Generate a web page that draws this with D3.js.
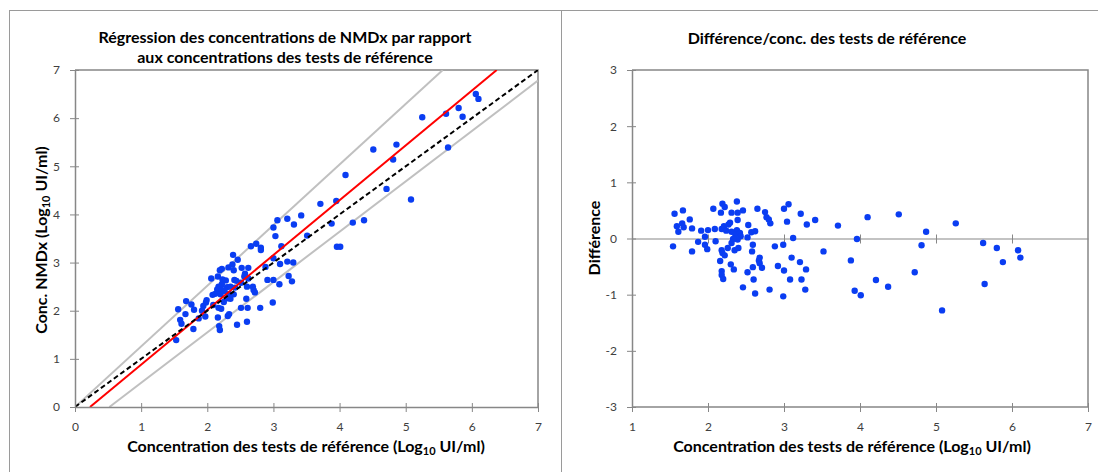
<!DOCTYPE html>
<html>
<head>
<meta charset='UTF-8'>
<title>NMDx</title>
<script src='https://d3js.org/d3.v7.min.js'></script>
<style>
  body { margin: 0; background: #fff; }
  text { font-family: Lato, 'Open Sans', sans-serif; }
</style>
</head>
<body>
<div id='chart'></div>
<script>
// left panel: reference concentration vs NMDx concentration (Log10 UI/ml)
var refConc = [3.42, 3.21, 3.06, 3.31, 3.00, 3.03, 2.66, 2.74, 2.81, 2.81,
  3.12, 2.39, 2.46, 3.00, 3.21, 3.30, 3.10, 2.88, 2.38, 2.52,
  2.62, 2.32, 2.22, 2.19, 2.40, 2.57, 2.56, 2.62, 2.16, 2.06,
  2.23, 2.28, 2.41, 2.44, 2.51, 2.91, 3.00, 3.23, 3.28, 3.09,
  2.22, 2.17, 2.30, 2.35, 2.42, 2.60, 2.69, 2.15, 2.22, 2.26,
  2.72, 2.70, 2.08, 2.12, 2.20, 2.33, 2.40, 2.31, 2.59, 2.35,
  1.99, 1.94, 1.98, 2.09, 2.17, 2.21, 2.25, 1.68, 1.76, 1.80,
  1.56, 1.67, 1.92, 1.97, 1.87, 1.59, 1.61, 1.79, 2.16, 2.31,
  2.33, 2.51, 2.61, 2.80, 2.99, 2.45, 2.60, 2.18, 2.19, 1.53,
  6.06, 6.10, 5.80, 5.86, 5.61, 5.25, 5.64, 4.86, 4.51, 4.81,
  4.09, 4.71, 3.71, 3.95, 5.08, 3.88, 4.20, 4.37, 3.51, 3.96, 4.01];
var nmdxConc = [3.98, 3.91, 3.88, 3.79, 3.73, 3.55, 3.34, 3.39, 3.31, 3.26,
  3.34, 3.16, 3.06, 3.09, 3.02, 3.00, 2.97, 2.91, 2.96, 2.89,
  2.89, 2.90, 2.87, 2.84, 2.84, 2.77, 2.71, 2.67, 2.71, 2.67,
  2.65, 2.63, 2.64, 2.62, 2.58, 2.64, 2.64, 2.72, 2.61, 2.55,
  2.55, 2.50, 2.49, 2.50, 2.48, 2.50, 2.50, 2.44, 2.43, 2.41,
  2.38, 2.43, 2.33, 2.35, 2.34, 2.35, 2.34, 2.26, 2.25, 2.25,
  2.22, 2.10, 2.17, 2.12, 2.06, 2.04, 2.18, 2.20, 2.13, 2.02,
  2.03, 1.93, 2.00, 1.88, 1.84, 1.81, 1.73, 1.62, 1.86, 1.89,
  1.93, 2.06, 2.06, 2.06, 2.17, 1.71, 1.77, 1.68, 1.60, 1.39,
  6.50, 6.40, 6.21, 6.03, 6.09, 6.02, 5.39, 5.45, 5.35, 5.14,
  4.82, 4.53, 4.22, 4.28, 4.31, 3.81, 3.83, 3.88, 3.56, 3.33, 3.33];

// lines on the left panel, in data units
var identityLine = [[0, 0], [7, 7]];
var fitLine = [[0.227, 0], [6.376, 7]];
var upperLine = [[0, 0], [5.56, 7]];
var lowerLine = [[0.52, 0], [7, 6.78]];

// right panel: difference vs reference concentration
var diffRef = [1.56, 1.67, 1.59, 1.66, 1.68, 1.61, 1.76, 1.79, 1.54, 1.79,
  1.87, 1.91, 1.96, 2.00, 1.96, 1.99, 2.07, 2.09, 2.10, 2.17,
  2.19, 2.22, 2.18, 2.21, 2.24, 2.27, 2.29, 2.31, 2.38, 2.39,
  2.46, 2.39, 2.38, 2.31, 2.36, 2.42, 2.43, 2.39, 2.33, 2.31,
  2.26, 2.35, 2.40, 2.18, 2.19, 2.22, 2.16, 2.30, 2.34, 2.18,
  2.18, 2.20, 2.46, 2.52, 2.59, 2.60, 2.62, 2.53, 2.52, 2.57,
  2.62, 2.59, 2.58, 2.65, 2.75, 2.77, 2.80, 2.82, 2.68, 2.67,
  2.68, 2.71, 2.81, 2.88, 2.92, 3.00, 2.99, 2.99, 3.00, 3.06,
  3.04, 3.12, 3.10, 3.08, 3.21, 3.22, 3.30, 3.29, 3.23, 3.28,
  3.41, 3.52, 3.71, 4.10, 4.51, 3.96, 3.88, 3.93, 4.01, 4.21,
  4.37, 4.72, 4.81, 4.87, 5.08, 5.26, 5.62, 5.64, 5.80, 5.88, 6.08, 6.11];
var diffValue = [0.44, 0.50, 0.22, 0.27, 0.20, 0.12, 0.34, 0.18, -0.14, -0.23,
  -0.06, 0.14, 0.03, 0.15, -0.11, -0.19, 0.53, 0.17, -0.05, 0.46,
  0.62, 0.56, 0.17, 0.22, 0.14, 0.25, 0.28, 0.46, 0.66, 0.46,
  0.50, 0.33, 0.15, 0.12, 0.07, 0.10, 0.04, -0.02, -0.01, -0.08,
  -0.17, -0.21, -0.17, -0.21, -0.26, -0.30, -0.40, -0.46, -0.55, -0.58,
  -0.65, -0.72, -0.87, -0.60, -0.51, -0.73, -0.98, 0.24, 0.02, 0.11,
  0.13, -0.11, -0.23, 0.53, 0.47, 0.38, 0.34, 0.27, -0.34, -0.39,
  -0.44, -0.52, -0.91, -0.14, -0.49, -0.57, -0.11, -1.03, 0.53, 0.61,
  0.30, 0.01, -0.34, -0.73, -0.42, 0.44, 0.25, -0.55, -0.73, -0.91,
  0.33, -0.23, 0.23, 0.38, 0.43, -0.01, -0.39, -0.93, -1.01, -0.74,
  -0.86, -0.60, -0.12, 0.12, -1.28, 0.27, -0.08, -0.81, -0.17, -0.42, -0.21, -0.34];

var concTicks = [0, 1, 2, 3, 4, 5, 6, 7];
var diffXTicks = [1, 2, 3, 4, 5, 6, 7];
var diffYTicks = [-3, -2, -1, 0, 1, 2, 3];

var W = 1098, H = 472;
var axisGrey = '#878787';
var dotBlue = '#0a3df2';
var plain = d => String(d);   // keeps a hyphen for negatives, like the original

var svg = d3.select('#chart').append('svg')
    .attr('width', W)
    .attr('height', H)
    .style('display', 'block');

// panel frames
svg.append('rect').attr('x', 9.5).attr('y', 10.5).attr('width', 552).attr('height', 520)
   .attr('fill', 'none').attr('stroke', '#9a9a9a');
svg.append('rect').attr('x', 561.5).attr('y', 10.5).attr('width', 600).attr('height', 520)
   .attr('fill', 'none').attr('stroke', '#9a9a9a');

// cross ticks for an axis group
function crossTicks(g, vertical) {
    g.select('.domain').attr('stroke', axisGrey);
    g.selectAll('.tick line').attr('stroke', axisGrey);
    if (vertical) g.selectAll('.tick line').attr('x1', 4).attr('x2', -5);
    else g.selectAll('.tick line').attr('y1', -4).attr('y2', 5);
    g.selectAll('.tick text').attr('fill', '#404040').style('font-size', '12px')
     .style('font-family', 'Lato, sans-serif');
}

function titleText(x, y, lines, size) {
    var t = svg.append('text')
       .attr('x', x).attr('y', y)
       .attr('text-anchor', 'middle')
       .style('font-size', size + 'px')
       .style('font-weight', 'bold')
       .attr('fill', '#000');
    lines.forEach(function (l, i) {
        t.append('tspan').attr('x', x).attr('dy', i === 0 ? 0 : '1.25em').text(l);
    });
}

function logTitle(g, before) {
    g.append('tspan').text(before + ' (Log');
    g.append('tspan').text('10').style('font-size', '11px').attr('dy', 3);
    g.append('tspan').text(' UI/ml)').attr('dy', -3);
}

// ---------- left chart ----------
var x1 = d3.scaleLinear().domain([0, 7]).range([75, 538]);
var y1 = d3.scaleLinear().domain([0, 7]).range([407, 70]);

svg.append('path')
   .attr('d', 'M' + x1(0) + ',' + y1(7) + 'H' + x1(7) + 'V' + y1(0))
   .attr('fill', 'none').attr('stroke', axisGrey).attr('stroke-width', 1.5);

svg.append('clipPath').attr('id', 'clip1').append('rect')
   .attr('x', x1(0)).attr('y', y1(7)).attr('width', x1(7) - x1(0)).attr('height', y1(0) - y1(7));

var line1 = d3.line().x(d => x1(d[0])).y(d => y1(d[1]));
var greyLines = svg.append('g').attr('clip-path', 'url(#clip1)');
greyLines.append('path').attr('d', line1(upperLine)).attr('stroke', '#c0c0c0').attr('stroke-width', 2).attr('fill', 'none');
greyLines.append('path').attr('d', line1(lowerLine)).attr('stroke', '#c0c0c0').attr('stroke-width', 2).attr('fill', 'none');

svg.append('g').selectAll('circle')
   .data(refConc)
   .enter()
   .append('circle')
   .attr('cx', d => x1(d))
   .attr('cy', (d, i) => y1(nmdxConc[i]))
   .attr('r', 3.2)
   .attr('fill', dotBlue);

var overLines = svg.append('g').attr('clip-path', 'url(#clip1)');
overLines.append('path').attr('d', line1(fitLine)).attr('stroke', '#ff0000').attr('stroke-width', 2).attr('fill', 'none');
overLines.append('path').attr('d', line1(identityLine)).attr('stroke', '#000').attr('stroke-width', 2)
   .attr('stroke-dasharray', '5,3').attr('fill', 'none');

svg.append('g')
   .attr('transform', 'translate(0,' + y1(0) + ')')
   .call(d3.axisBottom(x1).tickValues(concTicks).tickFormat(plain).tickSizeOuter(0).tickPadding(9))
   .call(g => crossTicks(g, false))
   .select('.domain').attr('stroke-width', 1.5);

svg.append('g')
   .attr('transform', 'translate(' + x1(0) + ',0)')
   .call(d3.axisLeft(y1).tickValues(concTicks).tickFormat(plain).tickSizeOuter(0).tickPadding(9))
   .call(g => crossTicks(g, true))
   .select('.domain').attr('stroke-width', 1.5);

titleText(285, 43, ['Régression des concentrations de NMDx par rapport', 'aux concentrations des tests de référence'], 16);

var xt1 = svg.append('text').attr('x', 306).attr('y', 452).attr('text-anchor', 'middle')
   .style('font-size', '16px').style('font-weight', 'bold');
logTitle(xt1, 'Concentration des tests de référence');

var yt1 = svg.append('text').attr('transform', 'translate(47,240) rotate(-90)').attr('text-anchor', 'middle')
   .style('font-size', '16px').style('font-weight', 'bold');
logTitle(yt1, 'Conc. NMDx');

// ---------- right chart ----------
var x2 = d3.scaleLinear().domain([1, 7]).range([632, 1088]);
var y2 = d3.scaleLinear().domain([-3, 3]).range([407, 70]);

svg.append('path')
   .attr('d', 'M' + x2(1) + ',' + y2(3) + 'H' + x2(7) + 'V' + y2(-3) + 'H' + x2(1))
   .attr('fill', 'none').attr('stroke', axisGrey).attr('stroke-width', 1.5);

// horizontal axis crossing at zero, labels at the bottom
svg.append('g')
   .attr('transform', 'translate(0,' + y2(0) + ')')
   .call(d3.axisBottom(x2).tickValues(diffXTicks.slice(1, -1)).tickFormat('').tickSizeOuter(0))
   .call(g => crossTicks(g, false));

svg.append('g')
   .attr('transform', 'translate(0,' + y2(-3) + ')')
   .call(d3.axisBottom(x2).tickValues(diffXTicks).tickFormat(plain).tickSize(0).tickPadding(15))
   .call(g => crossTicks(g, false))
   .call(g => g.select('.domain').remove());

svg.append('g')
   .attr('transform', 'translate(' + x2(1) + ',0)')
   .call(d3.axisLeft(y2).tickValues(diffYTicks).tickFormat(plain).tickSizeOuter(0).tickPadding(9))
   .call(g => crossTicks(g, true))
   .select('.domain').attr('stroke-width', 1.5);

svg.append('g').selectAll('circle')
   .data(diffRef)
   .enter()
   .append('circle')
   .attr('cx', d => x2(d))
   .attr('cy', (d, i) => y2(diffValue[i]))
   .attr('r', 3.2)
   .attr('fill', dotBlue);

titleText(827, 44, ['Différence/conc. des tests de référence'], 16);

var xt2 = svg.append('text').attr('x', 852).attr('y', 452).attr('text-anchor', 'middle')
   .style('font-size', '16px').style('font-weight', 'bold');
logTitle(xt2, 'Concentration des tests de référence');

svg.append('text').attr('transform', 'translate(600,238) rotate(-90)').attr('text-anchor', 'middle')
   .style('font-size', '16px').style('font-weight', 'bold').text('Différence');
</script>
</body>
</html>
